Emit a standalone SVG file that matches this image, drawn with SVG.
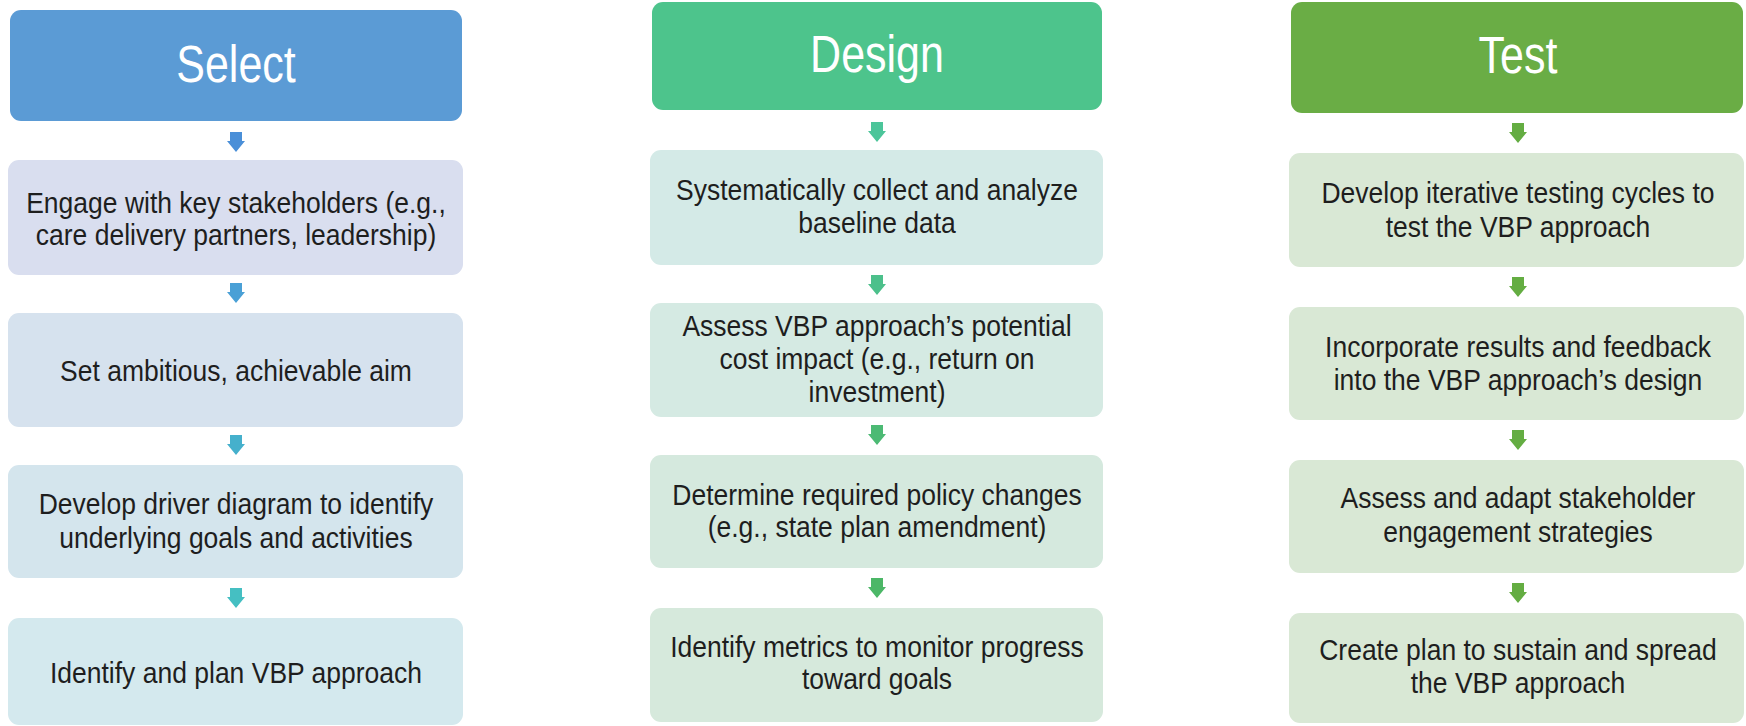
<svg xmlns="http://www.w3.org/2000/svg" width="1746" height="726" viewBox="0 0 1746 726">
<style>
.h{font-family:"Liberation Sans",Arial,sans-serif;font-size:43px;fill:#ffffff;text-anchor:middle}
.t{font-family:"Liberation Sans",Arial,sans-serif;font-size:26.5px;fill:#1e1e1e;text-anchor:middle}
</style>
<defs>
<path id="arr" d="M-6,0 H6 V9 H9 L0,20 L-9,9 H-6 Z"/>
</defs>
<rect width="1746" height="726" fill="#ffffff"/>

<g id="connectors">
<use href="#arr" x="236" y="132" fill="#4a8fd8"/>
<use href="#arr" x="236" y="283" fill="#4aa0d6"/>
<use href="#arr" x="236" y="435" fill="#45b0cc"/>
<use href="#arr" x="236" y="588" fill="#45bfc2"/>
<use href="#arr" x="877" y="122" fill="#4cc59a"/>
<use href="#arr" x="877" y="275" fill="#4cc08b"/>
<use href="#arr" x="877" y="425" fill="#4cba74"/>
<use href="#arr" x="877" y="578" fill="#4cb767"/>
<use href="#arr" x="1518" y="123" fill="#64ad42"/>
<use href="#arr" x="1518" y="277" fill="#64ad42"/>
<use href="#arr" x="1518" y="430" fill="#64ad42"/>
<use href="#arr" x="1518" y="583" fill="#64ad42"/>
</g>

<g id="select">
<rect x="10" y="10" width="452" height="111" rx="11" fill="#5b9bd5"/>
<text class="h" transform="translate(236,82) scale(1,1.2)">Select</text>
</g>
<g id="s1">
<rect x="8" y="160" width="455" height="115" rx="11" fill="#d9deef"/>
<text class="t" transform="translate(236,213) scale(1,1.1)">Engage with key stakeholders (e.g.,</text>
<text class="t" transform="translate(236,245) scale(1,1.1)">care delivery partners, leadership)</text>
</g>
<g id="s2">
<rect x="8" y="313" width="455" height="114" rx="11" fill="#d6e2ee"/>
<text class="t" transform="translate(236,381) scale(1,1.1)">Set ambitious, achievable aim</text>
</g>
<g id="s3">
<rect x="8" y="465" width="455" height="113" rx="11" fill="#d4e5ed"/>
<text class="t" transform="translate(236,514) scale(1,1.1)">Develop driver diagram to identify</text>
<text class="t" transform="translate(236,548) scale(1,1.1)">underlying goals and activities</text>
</g>
<g id="s4">
<rect x="8" y="618" width="455" height="107" rx="11" fill="#d4e9ee"/>
<text class="t" transform="translate(236,683) scale(1,1.1)">Identify and plan VBP approach</text>
</g>

<g id="design">
<rect x="652" y="2" width="450" height="108" rx="11" fill="#4dc48c"/>
<text class="h" transform="translate(877,72) scale(1,1.2)">Design</text>
</g>
<g id="d1">
<rect x="650" y="150" width="453" height="115" rx="11" fill="#d4eae7"/>
<text class="t" transform="translate(877,200) scale(1,1.1)">Systematically  collect and analyze</text>
<text class="t" transform="translate(877,233) scale(1,1.1)">baseline data</text>
</g>
<g id="d2">
<rect x="650" y="303" width="453" height="114" rx="11" fill="#d5eae3"/>
<text class="t" transform="translate(877,336) scale(1,1.1)">Assess VBP approach’s potential</text>
<text class="t" transform="translate(877,369) scale(1,1.1)">cost impact (e.g., return on</text>
<text class="t" transform="translate(877,402) scale(1,1.1)">investment)</text>
</g>
<g id="d3">
<rect x="650" y="455" width="453" height="113" rx="11" fill="#d5e9de"/>
<text class="t" transform="translate(877,505) scale(1,1.1)">Determine required policy changes</text>
<text class="t" transform="translate(877,537) scale(1,1.1)">(e.g., state plan amendment)</text>
</g>
<g id="d4">
<rect x="650" y="608" width="453" height="114" rx="11" fill="#d6e9dc"/>
<text class="t" transform="translate(877,657) scale(1,1.1)">Identify metrics to monitor progress</text>
<text class="t" transform="translate(877,689) scale(1,1.1)">toward goals</text>
</g>

<g id="test">
<rect x="1291" y="2" width="452" height="111" rx="11" fill="#6aad45"/>
<text class="h" transform="translate(1518,73) scale(1,1.2)">Test</text>
</g>
<g id="t1">
<rect x="1289" y="153" width="455" height="114" rx="11" fill="#d9e8d5"/>
<text class="t" transform="translate(1518,203) scale(1,1.1)">Develop iterative testing cycles to</text>
<text class="t" transform="translate(1518,237) scale(1,1.1)">test the VBP approach</text>
</g>
<g id="t2">
<rect x="1289" y="307" width="455" height="113" rx="11" fill="#d9e8d5"/>
<text class="t" transform="translate(1518,357) scale(1,1.1)">Incorporate results and feedback</text>
<text class="t" transform="translate(1518,390) scale(1,1.1)">into the VBP approach’s design</text>
</g>
<g id="t3">
<rect x="1289" y="460" width="455" height="113" rx="11" fill="#d9e8d5"/>
<text class="t" transform="translate(1518,508) scale(1,1.1)">Assess and adapt stakeholder</text>
<text class="t" transform="translate(1518,542) scale(1,1.1)">engagement strategies</text>
</g>
<g id="t4">
<rect x="1289" y="613" width="455" height="110" rx="11" fill="#d9e8d5"/>
<text class="t" transform="translate(1518,660) scale(1,1.1)">Create plan to sustain and spread</text>
<text class="t" transform="translate(1518,693) scale(1,1.1)">the VBP approach</text>
</g>
</svg>
